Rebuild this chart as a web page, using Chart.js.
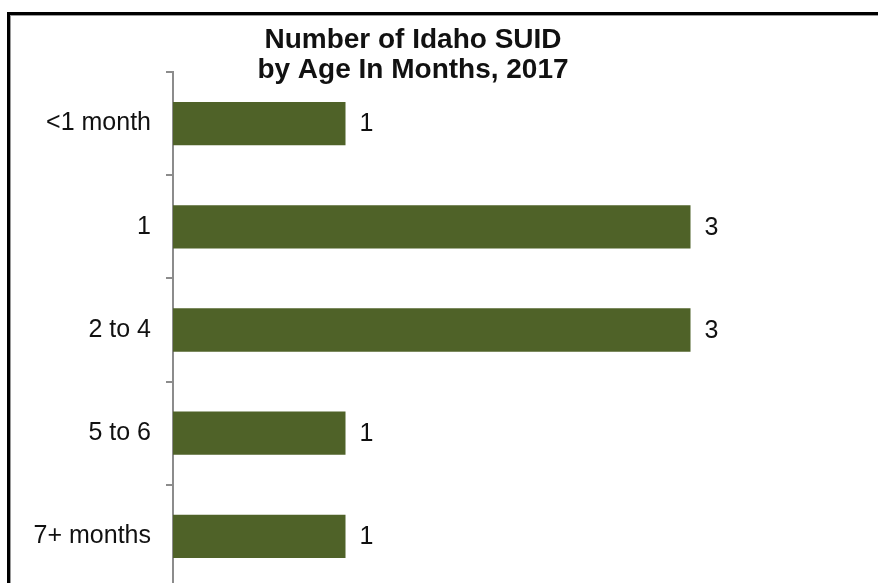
<!DOCTYPE html>
<html>
<head>
<meta charset="utf-8">
<title>Idaho SUID by age</title>
<script src="https://cdn.jsdelivr.net/npm/chart.js@4/dist/chart.umd.min.js"></script>
<style>
  html, body { margin: 0; padding: 0; background: #fff; overflow: hidden; }
  #wrap { position: relative; width: 878px; height: 583px; overflow: hidden; }
  #frame {
    position: absolute; left: 7px; top: 12px; width: 880px; height: 620px;
    border-top: 3px solid #000; border-left: 3px solid #000;
    box-shadow: inset 1px 1px 0 #9a9a9a;
  }
  canvas { position: absolute; left: 0; top: 0; }
</style>
</head>
<body>
<div id="wrap">
  <div id="frame"></div>
  <canvas id="chart" width="878" height="618"></canvas>
</div>
<script>
const ageGroups = ["<1 month", "1", "2 to 4", "5 to 6", "7+ months"];
const suidCounts = [1, 3, 3, 1, 1];
const titleLines = ["Number of Idaho SUID", "by Age In Months, 2017"];

const barColor = "#4f6228";
const axisGray = "#8c8c8c";
const fontFamily = '"Liberation Sans", Arial, sans-serif';

Chart.defaults.font.family = fontFamily;

// two-line bold heading, drawn over the top of the plot
const titlePlugin = {
  id: "twoLineTitle",
  afterDraw(chart) {
    const ctx = chart.ctx;
    ctx.save();
    ctx.font = "bold 28px " + fontFamily;
    ctx.fillStyle = "#111";
    ctx.textAlign = "center";
    ctx.textBaseline = "alphabetic";
    titleLines.forEach((line, i) => {
      ctx.fillText(line, 413, 48 + i * 30);
    });
    ctx.restore();
  },
};

// value printed just past the end of each bar
const valueLabels = {
  id: "valueLabels",
  afterDatasetsDraw(chart) {
    const ctx = chart.ctx;
    const meta = chart.getDatasetMeta(0);
    ctx.save();
    ctx.font = "25px " + fontFamily;
    ctx.fillStyle = "#111";
    ctx.textAlign = "left";
    ctx.textBaseline = "middle";
    meta.data.forEach((bar, i) => {
      ctx.fillText(String(suidCounts[i]), bar.x + 14, bar.y + 1);
    });
    ctx.restore();
  },
};

new Chart(document.getElementById("chart"), {
  type: "bar",
  data: {
    labels: ageGroups,
    datasets: [
      {
        data: suidCounts,
        backgroundColor: barColor,
        borderWidth: 0,
        categoryPercentage: 1,
        barPercentage: 0.42,
      },
    ],
  },
  options: {
    indexAxis: "y",
    responsive: false,
    animation: false,
    layout: { padding: { top: 72, right: 15, bottom: 12, left: 0 } },
    plugins: {
      legend: { display: false },
      title: { display: false },
      tooltip: { enabled: false },
    },
    scales: {
      x: {
        min: 0,
        max: 4,
        display: false,
      },
      y: {
        afterFit(scale) {
          scale.width = 173;
        },
        grid: {
          offset: true,
          drawOnChartArea: false,
          drawTicks: true,
          tickLength: 7,
          color: axisGray,
          lineWidth: 2,
        },
        border: { display: true, color: axisGray, width: 2 },
        ticks: {
          color: "#111",
          padding: 15,
          font: { size: 25 },
        },
      },
    },
  },
  plugins: [titlePlugin, valueLabels],
});
</script>
</body>
</html>
